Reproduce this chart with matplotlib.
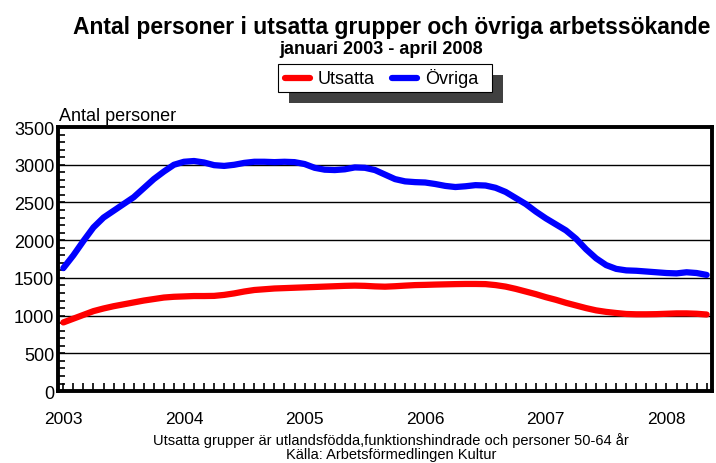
import matplotlib
matplotlib.use("Agg")
import matplotlib.pyplot as plt
from matplotlib.patches import Rectangle
from matplotlib.lines import Line2D
from matplotlib.ticker import MultipleLocator

plt.rcParams['font.family'] = ['Liberation Sans', 'DejaVu Sans']

# Månadsvärden jan 2003 - maj 2008
utsatta = [910, 960, 1010, 1060, 1095, 1125, 1150, 1175, 1200, 1220, 1240, 1250,
           1255, 1260, 1260, 1262, 1275, 1295, 1320, 1340, 1350, 1360, 1365, 1370,
           1375, 1380, 1385, 1390, 1395, 1398, 1395, 1388, 1384, 1390, 1398, 1405,
           1408, 1412, 1415, 1418, 1420, 1420, 1418, 1405, 1385, 1355, 1320, 1285,
           1245, 1210, 1170, 1135, 1100, 1070, 1050, 1035, 1022, 1018, 1018, 1020,
           1025, 1030, 1030, 1025, 1015]
ovriga = [1630, 1800, 1990, 2170, 2300, 2390, 2480, 2570, 2690, 2810, 2910, 3000,
          3040, 3050, 3030, 2995, 2985, 3000, 3025, 3040, 3040, 3035, 3040, 3035,
          3010, 2960, 2935, 2930, 2940, 2965, 2960, 2930, 2870, 2810, 2780, 2770,
          2765, 2745, 2720, 2705, 2715, 2730, 2725, 2695, 2640, 2560, 2480, 2380,
          2290, 2210, 2130, 2020, 1880, 1760, 1670, 1620, 1600, 1595, 1585, 1575,
          1565, 1560, 1575, 1565, 1540]
years = ["2003", "2004", "2005", "2006", "2007", "2008"]

months = list(range(len(ovriga)))

fig = plt.figure(figsize=(7.16, 4.64), dpi=100)
ax = fig.add_axes([0.0817, 0.155, 0.9123, 0.569])

ax.plot(months, utsatta, color="#ff0000", lw=4.5, solid_capstyle="round")
ax.plot(months, ovriga, color="#0000ff", lw=4.5, solid_capstyle="round")

ax.set_xlim(-0.48, 64.5)
ax.set_ylim(0, 3500)
ax.yaxis.set_major_locator(MultipleLocator(500))
ax.yaxis.set_minor_locator(MultipleLocator(100))
ax.grid(axis="y", which="major", color="black", lw=1)
ax.set_axisbelow(True)

ax.set_xticks(months)
ax.set_xticklabels([])
ax.tick_params(axis="x", direction="in", length=6, width=1.2, color="black")
ax.tick_params(axis="y", which="both", direction="in", length=5, width=1.2,
               labelsize=13, pad=3)
for s in ax.spines.values():
    s.set_linewidth(2.8)

for k, y in enumerate(years):
    ax.text(k * 12, -0.102, y, transform=ax.get_xaxis_transform(),
            ha="center", va="center", fontsize=12.5)

fig.text(0.547, 0.94, "Antal personer i utsatta grupper och övriga arbetssökande",
         ha="center", va="center", fontsize=16.5, fontweight="bold")
fig.text(0.532, 0.894, "januari 2003 - april 2008",
         ha="center", va="center", fontsize=13, fontweight="bold")
fig.text(0.083, 0.748, "Antal personer", ha="left", va="center", fontsize=13)

# legend with shadow
lx0, ly0, lw_, lh = 278 / 716, 1 - 93 / 464, 214 / 716, 28 / 464
fig.patches.append(Rectangle((lx0 + 11 / 716, ly0 - 11 / 464), lw_, lh,
                             transform=fig.transFigure, facecolor="#404040",
                             edgecolor="none", zorder=1))
fig.patches.append(Rectangle((lx0, ly0), lw_, lh, transform=fig.transFigure,
                             facecolor="white", edgecolor="black", lw=0.8, zorder=2))
ly = ly0 + lh / 2
for x0, col, lab in [(285, "#ff0000", "Utsatta"), (392, "#0000ff", "Övriga")]:
    fig.lines.append(Line2D([x0 / 716, (x0 + 25) / 716], [ly, ly], transform=fig.transFigure,
                            color=col, lw=4.5, solid_capstyle="round", zorder=3))
    fig.text((x0 + 33) / 716, ly, lab, ha="left", va="center", fontsize=13, zorder=4)

fig.text(0.546, 0.0496, "Utsatta grupper är utlandsfödda,funktionshindrade och personer 50-64 år",
         ha="center", va="center", fontsize=10.5)
fig.text(0.546, 0.0194, "Källa: Arbetsförmedlingen Kultur",
         ha="center", va="center", fontsize=10.5)

fig.savefig("out.png", dpi=100)
